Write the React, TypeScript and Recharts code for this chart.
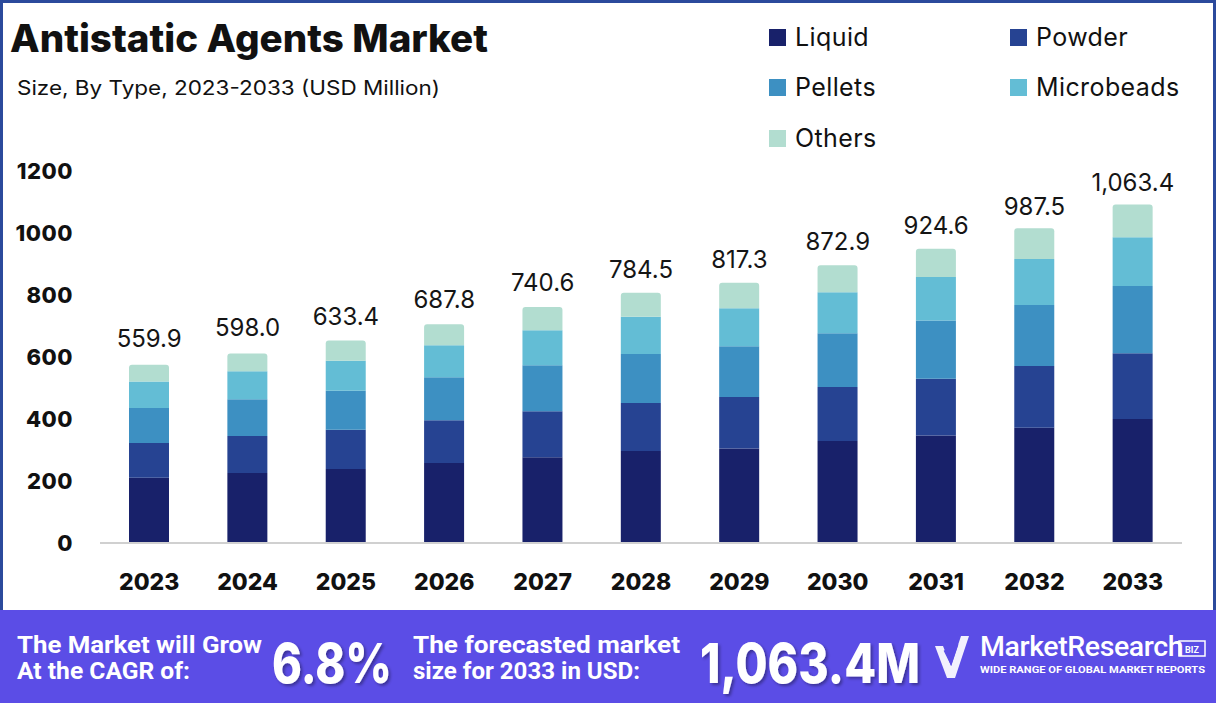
import React from "react";
import { ComposedChart, Bar, Line, XAxis, YAxis, LabelList } from "recharts";

const years = ["2023", "2024", "2025", "2026", "2027", "2028", "2029", "2030", "2031", "2032", "2033"];
const liquid = [210.6, 226, 239, 258, 277, 297, 305, 329, 347, 372, 400];
const powder = [112, 119, 126, 138, 148, 155, 166, 174, 183, 199, 212];
const pellets = [113, 119, 126, 139, 148, 158, 163.5, 174, 188, 197, 217];
const microbeads = [85, 90, 97, 103, 113, 120, 123, 132, 140, 148, 157];
const others = [54, 57, 65, 68, 75, 77, 82, 87, 91, 99, 106];
const totals = [559.9, 598.0, 633.4, 687.8, 740.6, 784.5, 817.3, 872.9, 924.6, 987.5, 1063.4];
const yTicks = [0, 200, 400, 600, 800, 1000, 1200];

const seriesNames = ["Liquid", "Powder", "Pellets", "Microbeads", "Others"];
const seriesKeys = ["liquid", "powder", "pellets", "microbeads", "others"];
const seriesColors = ["#18216a", "#264392", "#3d90c2", "#63bdd5", "#b2ddd0"];

const data = years.map((y, i) => ({
  year: y,
  liquid: liquid[i],
  powder: powder[i],
  pellets: pellets[i],
  microbeads: microbeads[i],
  others: others[i],
  total: totals[i],
}));

const fmt = (v: number) =>
  v.toLocaleString("en-US", { minimumFractionDigits: 1, maximumFractionDigits: 1 });

const FONT = "Inter, 'Noto Sans', sans-serif";
const COND = "Roboto, sans-serif";

const TotalLabel = (props: any) => {
  const { x, y, value } = props;
  return (
    <text x={x} y={y - 22} textAnchor="middle" fontSize={24} fill="#151515" fontFamily={FONT} fontWeight={400}>
      {fmt(Number(value))}
    </text>
  );
};

const legendPos = [
  { x: 769, y: 37 },
  { x: 1010, y: 37 },
  { x: 769, y: 87 },
  { x: 1010, y: 87 },
  { x: 769, y: 138 },
];

export default function App() {
  return (
    <div style={{ position: "absolute", left: 0, top: 0, width: 1216, height: 703, background: "#fff", overflow: "hidden", fontFamily: FONT }}>
      <div style={{ position: "absolute", left: 0, top: 0, width: 1216, height: 612, boxSizing: "border-box", borderTop: "3px solid #2b4a9c", borderLeft: "3px solid #2b4a9c", borderRight: "3px solid #2b4a9c" }} />
      <svg width={520} height={110} style={{ position: "absolute", left: 0, top: 0 }}>
        <text x={10} y={52} fontSize={38} fontWeight={800} fill="#111" fontFamily={FONT} textLength={478} lengthAdjust="spacingAndGlyphs">
          Antistatic Agents Market
        </text>
        <text x={17} y={95} fontSize={20} fontWeight={400} fill="#111" fontFamily={FONT} textLength={423} lengthAdjust="spacingAndGlyphs">
          Size, By Type, 2023-2033 (USD Million)
        </text>
      </svg>
      {seriesNames.map((n, i) => (
        <div key={n} style={{ position: "absolute", left: legendPos[i].x, top: legendPos[i].y - 9, display: "flex", alignItems: "center", height: 18 }}>
          <div style={{ width: 17, height: 17, background: seriesColors[i] }} />
          <span style={{ marginLeft: 9, fontSize: 25, color: "#111", lineHeight: "18px", letterSpacing: 0.4 }}>{n}</span>
        </div>
      ))}
      <div style={{ position: "absolute", left: 0, top: 0 }}>
        <ComposedChart width={1216} height={610} data={data} margin={{ top: 171, right: 34, bottom: 0, left: 0 }} barSize={40}>
          <XAxis
            dataKey="year"
            height={67}
            axisLine={{ stroke: "#d0d0d0", strokeWidth: 2 }}
            tickLine={false}
            tickMargin={25}
            tick={{ fontSize: 23, fontWeight: 800, fill: "#111", fontFamily: FONT }}
            interval={0}
          />
          <YAxis
            width={100}
            domain={[0, 1200]}
            ticks={yTicks}
            axisLine={false}
            tickLine={false}
            tickMargin={21}
            tick={{ fontSize: 22, fontWeight: 800, fill: "#111", fontFamily: FONT, letterSpacing: 0.5 }}
          />
          {seriesKeys.map((k, i) => (
            <Bar
              key={k}
              dataKey={k}
              stackId="a"
              fill={seriesColors[i]}
              isAnimationActive={false}
              radius={i === 4 ? [3, 3, 0, 0] : 0}
            />
          ))}
          <Line dataKey="total" stroke="none" dot={false} activeDot={false} isAnimationActive={false} legendType="none">
            <LabelList dataKey="total" content={TotalLabel} />
          </Line>
        </ComposedChart>
      </div>
      <div style={{ position: "absolute", left: 0, top: 610, width: 1216, height: 93, background: "#5b4de6" }}>
        <svg width={1216} height={93} style={{ position: "absolute", left: 0, top: 0 }}>
          <defs>
            <filter id="sh" x="-10%" y="-10%" width="130%" height="140%">
              <feDropShadow dx="2" dy="2" stdDeviation="1.5" floodColor="#000" floodOpacity="0.35" />
            </filter>
          </defs>
          <g fill="#fff" fontFamily={COND} fontWeight={700} fontSize={23}>
            <text x={17} y={43} textLength={245} lengthAdjust="spacingAndGlyphs">The Market will Grow</text>
            <text x={17} y={69} textLength={173} lengthAdjust="spacingAndGlyphs">At the CAGR of:</text>
            <text x={413} y={43} textLength={267} lengthAdjust="spacingAndGlyphs">The forecasted market</text>
            <text x={413} y={69} textLength={227} lengthAdjust="spacingAndGlyphs">size for 2033 in USD:</text>
          </g>
          <g fill="#fff" fontFamily={FONT} fontWeight={800} fontSize={55} filter="url(#sh)">
            <text x={272} y={73} textLength={120} lengthAdjust="spacingAndGlyphs">6.8%</text>
            <text x={700} y={73} textLength={220} lengthAdjust="spacingAndGlyphs">1,063.4M</text>
          </g>
          <g transform="translate(935,24)">
            <path d="M0 12 L8 12 L16 32 L26 2 L34 2 L20 44 L12 44 Z" fill="#fff" opacity={0.92} />
            <path d="M10 16 L16 28 L22 10" stroke="#5b4de6" strokeWidth={3} fill="none" />
          </g>
          <text x={980} y={46} fill="#fff" fontFamily={COND} fontWeight={500} fontSize={28.5} letterSpacing={-0.4}>MarketResearch</text>
          <rect x={1179} y={31} width={26} height={15} fill="none" stroke="#fff" strokeWidth={1.5} />
          <text x={1192} y={42.5} fill="#fff" fontFamily={COND} fontWeight={700} fontSize={9} textAnchor="middle">BIZ</text>
          <text x={980} y={63} fill="#fff" fontFamily={COND} fontWeight={700} fontSize={8.5} textLength={225} lengthAdjust="spacingAndGlyphs">WIDE RANGE OF GLOBAL MARKET REPORTS</text>
        </svg>
      </div>
    </div>
  );
}
